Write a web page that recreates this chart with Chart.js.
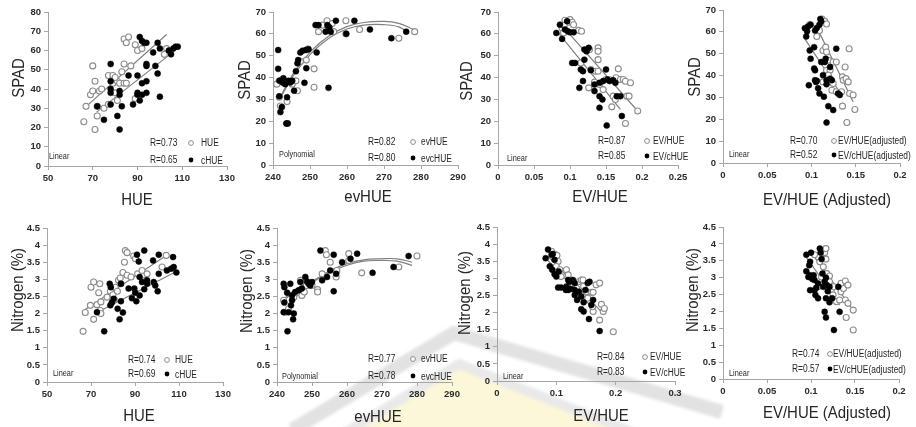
<!DOCTYPE html>
<html>
<head>
<meta charset="utf-8">
<title>SPAD / Nitrogen vs HUE indices</title>
<script src="https://cdn.jsdelivr.net/npm/chart.js@4.4.1/dist/chart.umd.min.js"></script>
<style>
  html, body { margin: 0; padding: 0; background: #fff; }
  body { width: 916px; height: 427px; position: relative; overflow: hidden; }
  canvas, svg { position: absolute; }
</style>
</head>
<body>
<!-- faint watermark behind the lower row -->
<svg width="916" height="427" style="left:0;top:0">
  <defs><filter id="soft"><feGaussianBlur stdDeviation="1.5"/></filter></defs>
  <g filter="url(#soft)">
    <polygon points="340,432 458,364 640,432" fill="#fcf7d8"/>
    <polyline points="330,442 459,364 652,440" fill="none" stroke="#e9e9e9" stroke-width="10" stroke-linejoin="round"/>
    <polyline points="292,430 454,333 722,412" fill="none" stroke="#e2e2e2" stroke-width="14" stroke-linejoin="round"/>
  </g>
</svg>
<canvas id="c1"></canvas>
<canvas id="c2"></canvas>
<canvas id="c3"></canvas>
<canvas id="c4"></canvas>
<canvas id="c5"></canvas>
<canvas id="c6"></canvas>
<canvas id="c7"></canvas>
<canvas id="c8"></canvas>
<script>
/* ------------------------------- DATA ------------------------------- */
// HUE vs SPAD
const hueSpadOpen = [[66,23],[67,31],[70,52],[71,44],[69,37],[70,39],[71,19],[72,26],[72,31],[73,39],[74,40],[75,30],[77,47],[79,47],[79,43],[77,32],[80,38],[81,34],[81,44],[82,43],[83,49],[84,53],[84,43],[84,66],[85,64],[86,67],[87,52],[89,63],[90,60],[92,61],[89,35],[102,58],[103,61],[85,43],[80,46]];
const hueSpadFilled = [[78,53],[78,44],[78,38],[78,40],[78,32],[75,24],[72,31],[81,26],[82,19],[82,39],[82,37],[83,31],[86,47],[88,32],[90,47],[90,37],[90,38],[91,34],[91,67],[92,65],[93,64],[94,64],[92,43],[94,44],[94,38],[94,53],[94,52],[92,37],[98,52],[99,48],[97,59],[99,64],[100,61],[100,36],[104,60],[105,58],[106,61],[107,62],[108,62]];
const hueSpadOpenFit = [[66.5,30.3],[103,68.3]];
const hueSpadFilledFit = [[71.7,28],[107.5,60.7]];

// evHUE vs SPAD
const evSpadOpen = [[241,37],[241.7,31],[242,27],[242.4,39],[243.8,29],[243.8,19],[245.2,37],[246.2,38.5],[246.6,34],[247.4,47.4],[249.4,53],[251.1,44],[251.1,35.6],[252.3,61],[253.4,64],[254.6,66],[255,63],[256,64.7],[256.4,61],[259.7,66],[259.7,60],[263.4,62],[274,58],[278.3,61],[249,48]];
const evSpadFilled = [[241.4,52.6],[241.4,44],[241.7,38.6],[241.7,31.4],[242,24.2],[242.4,26.5],[242.6,37.7],[242.8,39.7],[243.3,37],[243.8,31],[243.6,19],[244,19],[244.2,38.5],[244.7,37.7],[245.2,38.5],[245.7,34],[246.2,42.9],[246.6,46.5],[246.8,48],[247.4,51.5],[248,52.3],[248.5,37.6],[249,44.3],[248.9,52.6],[249.6,53],[251.8,51.5],[251.5,64],[252.3,64],[254.2,61],[254.7,64],[255.2,63],[255.6,61],[255,35.3],[257,66],[259.8,60],[262,66],[266.2,62],[272,58],[276,61]];
const evSpadOpenFit = [[241.9,31],[245.7,42.4],[250.4,52.3],[255.1,59],[259.8,63.2],[264.5,65.2],[270,65.7],[274,64.8],[278,62]];
const evSpadFilledFit = [[241.9,30.3],[245.7,41.4],[250.4,51.2],[255.1,58],[259.8,62.1],[264.5,64],[270,64.2],[274,63.2],[276.5,60.6]];

// EV/HUE vs SPAD
const ratioSpadOpen = [[0.093,66.2],[0.097,65.3],[0.1,66.5],[0.103,65.3],[0.105,64.2],[0.089,62.7],[0.091,60.4],[0.092,63.8],[0.112,61.6],[0.116,61.2],[0.115,46.7],[0.127,52.8],[0.129,43.7],[0.126,35.3],[0.134,37.9],[0.135,42.9],[0.139,42.9],[0.139,53.6],[0.139,52],[0.139,48.2],[0.141,36.8],[0.146,34.5],[0.15,39.1],[0.158,26.6],[0.16,31.5],[0.163,30],[0.164,39.9],[0.167,44],[0.17,39.1],[0.174,39.1],[0.177,38.3],[0.179,31.5],[0.182,31.5],[0.184,37.6],[0.177,19],[0.194,24.7],[0.155,39]];
const ratioSpadFilled = [[0.081,60.4],[0.086,64.2],[0.089,57.7],[0.093,62],[0.096,65.8],[0.097,61.2],[0.1,60.7],[0.105,60.7],[0.103,46.7],[0.107,46.7],[0.113,35.3],[0.115,43.7],[0.118,42.9],[0.118,38.4],[0.12,48.2],[0.12,52.8],[0.123,52],[0.126,53.6],[0.129,43.4],[0.134,33.8],[0.134,36.8],[0.141,37.6],[0.141,31.5],[0.141,26.2],[0.145,30],[0.146,38.4],[0.15,43.7],[0.152,39.1],[0.151,18.1],[0.155,38.4],[0.163,37.6],[0.165,31.5],[0.17,31.5],[0.172,22.4],[0.16,38.8]];
const ratioSpadOpenFit = [[0.089,63.8],[0.194,24.7]];
const ratioSpadFilledFit = [[0.081,61.6],[0.17,25.4]];

// EV/HUE (adjusted) vs SPAD
const adjSpadOpen = [[0.098,63.3],[0.109,60.6],[0.112,65.9],[0.115,64.8],[0.117,63.6],[0.106,57.9],[0.113,51.5],[0.116,53],[0.117,50.8],[0.119,47],[0.1245,46.2],[0.128,46.2],[0.117,42.4],[0.121,42.4],[0.119,40.2],[0.113,37.1],[0.1245,36.4],[0.123,33.3],[0.128,32.6],[0.135,39.4],[0.136,37.9],[0.138,43.9],[0.139,38.6],[0.1415,37.1],[0.1425,52.3],[0.143,31.8],[0.147,31.1],[0.135,26],[0.149,24.5],[0.14,18.5],[0.134,32.6]];
const adjSpadFilled = [[0.0925,61.7],[0.095,60.3],[0.096,62.4],[0.099,63.3],[0.104,60.6],[0.106,61.8],[0.094,57.9],[0.109,63.3],[0.11,65.9],[0.111,64.8],[0.098,51.5],[0.103,53],[0.099,47.7],[0.103,43.2],[0.104,42.4],[0.104,37.9],[0.105,37.1],[0.106,37.6],[0.097,35.6],[0.1075,34.2],[0.109,31.8],[0.111,46.2],[0.115,46.2],[0.116,47.7],[0.113,40.2],[0.117,37.9],[0.117,36],[0.114,30.3],[0.119,26],[0.121,38.6],[0.123,37.9],[0.121,43.9],[0.1245,24.2],[0.117,18.5],[0.128,52.3],[0.13,31.8],[0.132,31.1]];
const adjSpadOpenFit = [[0.1075,60.9],[0.147,28]];
const adjSpadFilledFit = [[0.0925,56.8],[0.134,31.1]];

// HUE vs Nitrogen
const hueNOpen = [[66.4,1.48],[67.4,2.03],[69.7,2.24],[70,2.77],[71.2,2.92],[71.2,1.83],[72.7,2.26],[73.5,2.61],[74,2.87],[74.2,2.09],[74.5,2.0],[74.5,2.34],[77.3,2.48],[78.8,2.65],[80,2.55],[80.6,2.41],[81,2.77],[82,2.65],[82.5,2.97],[83.3,3.04],[83.6,2.87],[84.5,3.2],[85.2,3.5],[85.6,3.84],[86.4,3.78],[86.4,3.12],[88.2,3.07],[89.4,3.68],[90.2,3.6],[91.2,3.16],[93.2,3.26],[94.7,2.97],[95.5,3.16],[102.3,3.36],[104.2,3.7]];
const hueNFilled = [[72.7,2.04],[76,1.48],[78.5,2.87],[78.8,2.24],[79,2.77],[79.5,2.32],[80.3,2.43],[82.1,2.14],[83,1.83],[83.6,2.87],[83.6,2.36],[84.5,2.03],[87.1,2.73],[88.6,2.45],[89.7,2.73],[90.1,2.61],[90.6,2.36],[90.9,3.72],[91.7,3.52],[92.1,3.07],[92.1,2.53],[93.2,2.92],[94.2,2.71],[94.2,3.84],[95.5,2.97],[95.5,2.87],[98.5,2.92],[98.2,3.55],[99.2,2.82],[100.3,2.65],[100.8,3.72],[100.8,3.16],[104.5,3.26],[106.4,3.31],[107.3,3.65],[107.6,3.36],[108.8,3.2]];
const hueNOpenFit = [[67.4,2.12],[104.2,3.7]];
const hueNFilledFit = [[72.7,2.03],[108.8,3.23]];

// evHUE vs Nitrogen
const evNOpen = [[241.9,2.39],[242.4,2.04],[243.3,2.14],[244.8,2.48],[245.7,2.61],[246.7,2.97],[247.1,2.53],[247.8,2.63],[248.4,2.82],[250,2.82],[251.6,2.7],[251.6,2.63],[252.9,3.16],[253.8,3.84],[254.1,3.72],[255.2,3.5],[256.9,3.07],[257.1,3.26],[260.5,3.75],[260.5,3.55],[264.2,3.19],[274.8,3.36],[280,3.68]];
const evNFilled = [[241.9,2.87],[242.1,2.77],[241.9,2.04],[242.1,2.32],[242.9,2.61],[243,1.48],[243.3,2.04],[243.8,2.87],[244,2.24],[244.3,2.39],[244.6,1.83],[244.8,2.0],[244.3,2.53],[245.2,2.63],[246.2,2.68],[246.7,2.92],[247.1,2.73],[248.1,3.07],[248.6,2.94],[249,2.87],[249.5,2.82],[250,2.92],[252.4,3.84],[252.9,2.97],[254.3,3.07],[255.2,3.26],[256.2,3.72],[256.2,2.65],[256.9,3.16],[258.6,3.5],[261,3.6],[262.9,3.75],[267.3,3.19],[273.3,3.36],[277.6,3.68]];
const evNOpenFit = [[241.9,2.43],[245.7,2.73],[250.5,2.97],[255.2,3.26],[260,3.46],[264.8,3.57],[269.5,3.6],[274.3,3.6],[278.6,3.5]];
const evNFilledFit = [[241.9,2.39],[245.7,2.68],[250.5,2.94],[255.2,3.21],[260,3.41],[264.8,3.53],[269.5,3.55],[274.3,3.53],[278.6,3.41]];

// EV/HUE vs Nitrogen
const ratioNOpen = [[0.092,3.79],[0.097,3.71],[0.101,3.67],[0.103,3.49],[0.1,3.35],[0.106,3.25],[0.108,3.05],[0.117,3.25],[0.12,3.1],[0.125,2.95],[0.128,2.76],[0.134,2.71],[0.137,2.9],[0.142,2.95],[0.145,2.95],[0.146,2.76],[0.151,2.61],[0.153,2.42],[0.159,2.59],[0.162,2.59],[0.162,2.03],[0.161,2.17],[0.167,2.81],[0.173,2.86],[0.173,1.78],[0.176,2.24],[0.179,2.03],[0.181,2.12],[0.196,1.44],[0.138,2.47]];
const ratioNFilled = [[0.086,3.84],[0.082,3.59],[0.092,3.69],[0.094,3.71],[0.097,3.54],[0.089,3.35],[0.093,3.25],[0.097,3.12],[0.1,3.05],[0.104,3.2],[0.103,2.73],[0.108,2.73],[0.116,2.66],[0.117,2.76],[0.12,2.95],[0.122,2.9],[0.128,2.95],[0.125,2.69],[0.131,2.66],[0.131,2.51],[0.135,2.37],[0.138,2.61],[0.142,2.47],[0.142,2.1],[0.146,2.03],[0.146,2.3],[0.149,2.66],[0.153,2.86],[0.156,2.9],[0.155,1.81],[0.159,2.22],[0.162,2.37],[0.173,1.46],[0.131,2.86],[0.12,2.66]];
const ratioNOpenFit = [[0.086,3.64],[0.181,1.93]];
const ratioNFilledFit = [[0.082,3.59],[0.167,2.03]];

// EV/HUE (adjusted) vs Nitrogen
const adjNOpen = [[0.104,3.68],[0.11,3.47],[0.114,3.32],[0.1155,3.74],[0.117,3.86],[0.117,3.55],[0.114,3.09],[0.118,3.12],[0.121,3.05],[0.121,2.88],[0.123,2.63],[0.125,2.49],[0.126,2.73],[0.129,2.29],[0.134,2.83],[0.134,2.58],[0.137,2.68],[0.139,2.9],[0.142,2.78],[0.139,2.34],[0.142,2.24],[0.14,1.82],[0.148,2.04],[0.148,1.45],[0.1325,2.34],[0.108,2.73],[0.112,3.02]];
const adjNFilled = [[0.0947,3.68],[0.098,3.37],[0.0947,3.19],[0.099,3.47],[0.1,3.74],[0.097,3.02],[0.099,3.07],[0.1015,2.96],[0.103,3.07],[0.104,2.93],[0.099,2.63],[0.104,2.63],[0.106,2.7],[0.105,2.49],[0.108,2.39],[0.11,3.86],[0.111,3.74],[0.112,3.55],[0.113,3.12],[0.114,2.73],[0.1155,2.88],[0.117,3.0],[0.118,2.78],[0.119,2.6],[0.121,2.73],[0.117,2.39],[0.121,2.27],[0.1155,1.99],[0.117,1.82],[0.124,2.39],[0.126,1.45],[0.131,2.73],[0.1325,1.99],[0.108,2.83]];
const adjNOpenFit = [[0.104,3.61],[0.148,2.04]];
const adjNFilledFit = [[0.0947,3.61],[0.1325,2.19]];

// Labels, ticks
const rLabels = [["R=0.73","R=0.65"],["R=0.82","R=0.80"],["R=0.87","R=0.85"],["R=0.70","R=0.52"],
                 ["R=0.74","R=0.69"],["R=0.77","R=0.78"],["R=0.84","R=0.83"],["R=0.74","R=0.57"]];
const seriesNames = [["HUE","cHUE"],["evHUE","evcHUE"],["EV/HUE","EV/cHUE"],["EV/HUE(adjusted)","EV/cHUE(adjusted)"],
                     ["HUE","cHUE"],["evHUE","evcHUE"],["EV/HUE","EV/cHUE"],["EV/HUE(adjusted)","EV/cHUE(adjusted)"]];
const fitTypes = ["Linear","Polynomial","Linear","Linear","Linear","Polynomial","Linear","Linear"];
const xTitles = ["HUE","evHUE","EV/HUE","EV/HUE (Adjusted)","HUE","evHUE","EV/HUE","EV/HUE (Adjusted)"];
const yTitles = ["SPAD","SPAD","SPAD","SPAD","Nitrogen (%)","Nitrogen (%)","Nitrogen (%)","Nitrogen (%)"];
const xTicks = [[50,130,20],[240,290,10],[0,0.25,0.05],[0,0.2,0.05],[50,130,20],[240,290,10],[0,0.3,0.1],[0,0.2,0.05]];
const yTicks = [[0,80,10],[0,70,10],[0,70,10],[0,70,10],[0,4.5,0.5],[0,4.5,0.5],[0,4.5,0.5],[0,4.5,0.5]];

const openSets = [hueSpadOpen, evSpadOpen, ratioSpadOpen, adjSpadOpen, hueNOpen, evNOpen, ratioNOpen, adjNOpen];
const filledSets = [hueSpadFilled, evSpadFilled, ratioSpadFilled, adjSpadFilled, hueNFilled, evNFilled, ratioNFilled, adjNFilled];
const openFits = [hueSpadOpenFit, evSpadOpenFit, ratioSpadOpenFit, adjSpadOpenFit, hueNOpenFit, evNOpenFit, ratioNOpenFit, adjNOpenFit];
const filledFits = [hueSpadFilledFit, evSpadFilledFit, ratioSpadFilledFit, adjSpadFilledFit, hueNFilledFit, evNFilledFit, ratioNFilledFit, adjNFilledFit];

/* ------------------------------- LAYOUT (page px) ------------------------------- */
// canvas: [left, top, w, h], plot: [left, right, top, bottom]
const panels = [
  { canvas: [0, 0, 250, 215],   plot: [48, 227, 12, 166],  xt: [137, 200], yt: [19, 78],   lg: { r: 150, m: 191, n: 201, y: [143, 160] }, fit: [49, 157] },
  { canvas: [226, 0, 250, 215], plot: [273, 458, 12, 165], xt: [368, 197], yt: [245, 80],  lg: { r: 368, m: 413, n: 421, y: [142, 158] }, fit: [279, 155] },
  { canvas: [448, 0, 262, 215], plot: [498, 678, 12, 165], xt: [600, 197], yt: [467, 81],  lg: { r: 598, m: 647, n: 653, y: [141, 156] }, fit: [507, 159] },
  { canvas: [676, 0, 240, 215], plot: [723, 900, 10, 163], xt: [827, 200], yt: [695, 77],  lg: { r: 790, m: 834, n: 838, y: [141, 155] }, fit: [729, 155] },
  { canvas: [0, 215, 250, 212],   plot: [47, 223, 228, 382],  xt: [139, 416], yt: [18, 290],  lg: { r: 128, m: 167, n: 175, y: [360, 374] }, fit: [53, 374] },
  { canvas: [228, 215, 250, 212], plot: [277, 452, 228, 382], xt: [378, 417], yt: [247, 291], lg: { r: 368, m: 413, n: 421, y: [359, 376] }, fit: [282, 377] },
  { canvas: [446, 215, 262, 212], plot: [497, 675, 227, 381], xt: [601, 416], yt: [465, 293], lg: { r: 597, m: 645, n: 650, y: [357, 372] }, fit: [503, 377] },
  { canvas: [674, 215, 242, 212], plot: [723, 899, 227, 379], xt: [827, 413], yt: [693, 290], lg: { r: 792, m: 830, n: 833, y: [354, 369] }, fit: [729, 374] },
];

const FONT = "'Liberation Sans', Arial, sans-serif";
const TEXT = "#262626";
const AXIS = "#a6a6a6";

// text squeezed horizontally, the source figure uses a narrow face
const narrowText = (ctx, text, x, y, sx) => {
  ctx.save();
  ctx.translate(x, y);
  ctx.scale(sx, 1);
  ctx.fillText(text, 0, 0);
  ctx.restore();
};

// Axis titles, R legend and fit type, drawn in page coordinates
const annotate = {
  id: "annotate",
  afterDraw(chart, args, o) {
    const { ctx } = chart;
    const dx = o.left, dy = o.top;
    ctx.save();
    ctx.fillStyle = TEXT;
    ctx.textBaseline = "middle";
    ctx.textAlign = "center";
    ctx.font = `17px ${FONT}`;
    narrowText(ctx, o.xTitle, o.xt[0] - dx, o.xt[1] - dy, 0.88);
    ctx.save();
    ctx.translate(o.yt[0] - dx, o.yt[1] - dy);
    ctx.rotate(-Math.PI / 2);
    narrowText(ctx, o.yTitle, 0, 0, 0.88);
    ctx.restore();

    ctx.textAlign = "left";
    ctx.font = `10px ${FONT}`;
    [0, 1].forEach((i) => {
      const y = o.lg.y[i] - dy;
      ctx.fillStyle = TEXT;
      narrowText(ctx, o.r[i], o.lg.r - dx, y, 0.84);
      narrowText(ctx, o.names[i], o.lg.n - dx, y + (i === 1 ? 1 : 0), 0.84);
      ctx.beginPath();
      ctx.arc(o.lg.m - dx, y, 2.4, 0, Math.PI * 2);
      if (i === 0) {
        ctx.fillStyle = "#fff";
        ctx.fill();
        ctx.strokeStyle = "#8c8c8c";
        ctx.lineWidth = 1;
        ctx.stroke();
      } else {
        ctx.fillStyle = "#000";
        ctx.fill();
      }
    });
    ctx.fillStyle = TEXT;
    ctx.font = `8.5px ${FONT}`;
    narrowText(ctx, o.fit, o.fitPos[0] - dx, o.fitPos[1] - dy, 0.86);
    ctx.restore();
  },
};

const fmt = (v) => String(+Number(v).toFixed(3));

/* ------------------------------- CHARTS ------------------------------- */
const buildPanel = (i) => {
  const p = panels[i];
  const [cl, ct, cw, ch] = p.canvas;
  const [pl, pr, pt, pb] = p.plot;
  const canvas = document.getElementById("c" + (i + 1));
  canvas.width = cw;
  canvas.height = ch;
  canvas.style.left = cl + "px";
  canvas.style.top = ct + "px";
  const poly = fitTypes[i] === "Polynomial";

  const axis = (range, fit) => ({
    type: "linear",
    min: range[0],
    max: range[1],
    afterFit: fit,
    ticks: {
      stepSize: range[2],
      autoSkip: false,
      maxRotation: 0,
      padding: 3,
      color: "#2b2b2b",
      font: { family: FONT, size: 9.5, weight: "bold" },
      callback: fmt,
    },
    grid: { drawOnChartArea: false, drawTicks: true, tickLength: 4, color: AXIS },
    border: { display: true, color: AXIS, width: 1 },
  });

  const fitLine = (data) => ({
    data,
    showLine: true,
    pointRadius: 0,
    borderColor: "#7f7f7f",
    borderWidth: 1.2,
    tension: poly ? 0.4 : 0,
    fill: false,
  });

  return new Chart(canvas, {
    type: "scatter",
    data: {
      datasets: [
        { data: filledSets[i], pointRadius: 3, pointBackgroundColor: "#000", pointBorderColor: "#000", pointBorderWidth: 0.5 },
        { data: openSets[i], pointRadius: 3, pointBackgroundColor: "#fff", pointBorderColor: "#8c8c8c", pointBorderWidth: 1.1 },
        fitLine(openFits[i]),
        fitLine(filledFits[i]),
      ],
    },
    options: {
      responsive: false,
      animation: false,
      events: [],
      layout: { padding: { left: 0, top: pt - ct, right: cl + cw - pr, bottom: 0 } },
      plugins: {
        legend: { display: false },
        tooltip: { enabled: false },
        annotate: {
          left: cl, top: ct,
          xTitle: xTitles[i], yTitle: yTitles[i],
          xt: p.xt, yt: p.yt, lg: p.lg,
          r: rLabels[i], names: seriesNames[i],
          fit: fitTypes[i], fitPos: p.fit,
        },
      },
      scales: {
        x: axis(xTicks[i], (s) => { s.height = ct + ch - pb; }),
        y: axis(yTicks[i], (s) => { s.width = pl - cl; }),
      },
    },
    plugins: [annotate],
  });
};

const charts = panels.map((p, i) => buildPanel(i));
</script>
</body>
</html>
